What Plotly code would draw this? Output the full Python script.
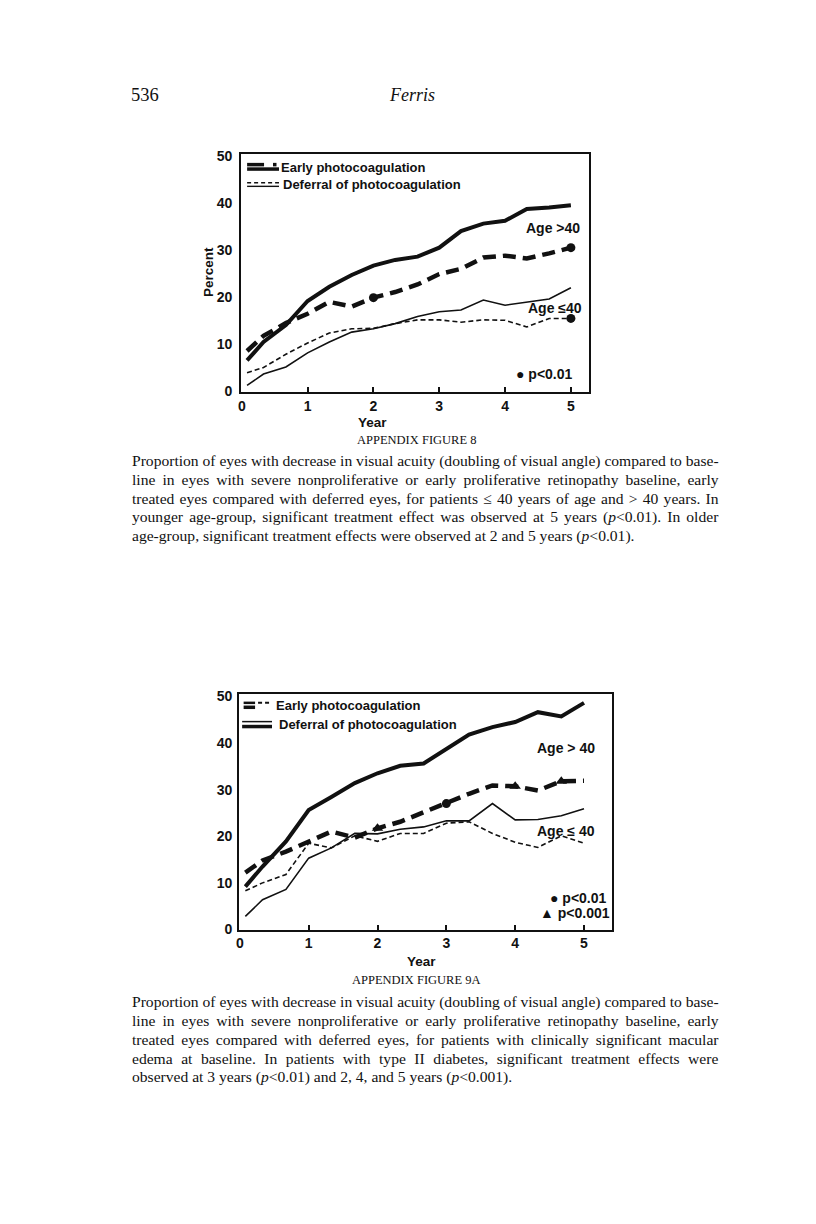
import plotly.graph_objects as go

# ---------------- data ----------------
years = [0.08, 0.33, 0.67, 1.0, 1.33, 1.67, 2.0, 2.33, 2.67, 3.0, 3.33, 3.67, 4.0, 4.33, 4.67, 5.0]

# Appendix figure 8
f8_early_gt40 = [8.6, 11.8, 14.5, 16.5, 19.0, 18.0, 19.9, 21.1, 22.7, 24.9, 26.0, 28.4, 28.8, 28.2, 29.3, 30.5]
f8_defer_gt40 = [6.6, 10.5, 14.1, 19.2, 22.2, 24.7, 26.7, 27.9, 28.6, 30.5, 34.0, 35.6, 36.2, 38.7, 39.0, 39.5]
f8_early_le40 = [4.0, 5.1, 7.9, 10.3, 12.4, 13.3, 13.4, 14.4, 15.2, 15.2, 14.7, 15.2, 15.1, 13.7, 15.5, 15.5]
f8_defer_le40 = [1.3, 3.7, 5.2, 8.2, 10.5, 12.6, 13.3, 14.4, 15.9, 16.9, 17.3, 19.4, 18.3, 18.9, 19.6, 22.0]
f8_dot_gt40 = [2.0, 5.0]      # p<0.01
f8_dot_le40 = [5.0]           # p<0.01

# Appendix figure 9A
f9_early_gt40 = [12.2, 14.8, 16.7, 18.9, 21.0, 19.7, 21.7, 23.1, 25.2, 27.0, 29.1, 30.9, 30.7, 29.8, 31.8, 31.9]
f9_defer_gt40 = [9.2, 13.5, 18.9, 25.6, 28.4, 31.4, 33.5, 35.1, 35.6, 38.7, 41.8, 43.4, 44.5, 46.6, 45.7, 48.6]
f9_early_le40 = [8.3, 10.0, 11.8, 18.5, 17.5, 20.1, 18.9, 20.6, 20.6, 22.8, 23.1, 20.6, 18.7, 17.6, 20.1, 18.5]
f9_defer_le40 = [2.8, 6.4, 8.6, 15.3, 17.5, 20.6, 20.5, 21.5, 22.0, 23.3, 23.3, 27.0, 23.5, 23.6, 24.4, 25.9]
f9_dot_gt40 = [3.0]                 # p<0.01
f9_tri_gt40 = [2.0, 4.0, 4.67]      # p<0.001

x_ticks = [0, 1, 2, 3, 4, 5]
y_ticks = [0, 10, 20, 30, 40, 50]

caption8 = [
    "Proportion of eyes with decrease in visual acuity (doubling of visual angle) compared to base-",
    "line in eyes with severe nonproliferative or early proliferative retinopathy baseline, early",
    "treated eyes compared with deferred eyes, for patients ≤ 40 years of age and > 40 years. In",
    "younger age-group, significant treatment effect was observed at 5 years (|p|<0.01). In older",
    "age-group, significant treatment effects were observed at 2 and 5 years (|p|<0.01).",
]
caption9 = [
    "Proportion of eyes with decrease in visual acuity (doubling of visual angle) compared to base-",
    "line in eyes with severe nonproliferative or early proliferative retinopathy baseline, early",
    "treated eyes compared with deferred eyes, for patients with clinically significant macular",
    "edema at baseline. In patients with type II diabetes, significant treatment effects were",
    "observed at 3 years (|p|<0.01) and 2, 4, and 5 years (|p|<0.001).",
]

# ---------------- helpers ----------------
W, H = 816, 1224
OFF = 8                      # browser body margin
FW, FH = W - 2 * OFF, H - 2 * OFF
def fx(p):
    return (p - OFF) / FW
def fy(p):
    return 1 - (p - OFF) / FH

INK = "#111111"
SANS = "Liberation Sans, Arial, sans-serif"
SERIF = "Liberation Serif, Times New Roman, serif"

# Times metrics (1/1000 em) for justification
TW = dict(zip("abcdefghijklmnopqrstuvwxyz",
              [444, 500, 444, 500, 444, 333, 500, 500, 278, 278, 500, 278, 778, 500, 500, 500, 500, 333,
               389, 278, 500, 500, 722, 500, 500, 444]))
TW.update(dict(zip("ABCDEFGHIJKLMNOPQRSTUVWXYZ",
                   [722, 667, 667, 722, 611, 556, 722, 722, 333, 389, 722, 611, 889, 722, 722, 556, 722,
                    667, 556, 611, 722, 722, 944, 722, 722, 611])))
TW.update({c: 500 for c in "0123456789"})
TW.update({" ": 250, "(": 333, ")": 333, ",": 250, ".": 250, "-": 333, "<": 564, ">": 564,
           "≤": 549})

def em_width(s):
    return sum(TW.get(c, 500) for c in s.replace("|", "")) / 1000.0

def to_html(s):
    out = s.replace("<", "&lt;").replace(">", "&gt;")
    parts = out.split("|")
    res = ""
    for i, p in enumerate(parts):
        res += ("<i>%s</i>" % p) if i % 2 == 1 else p
    return res

fig = go.Figure()

def add_line(x, y, width, dash, xa, ya):
    fig.add_trace(go.Scatter(x=x, y=y, mode="lines", xaxis=xa, yaxis=ya,
                             line=dict(color=INK, width=width, dash=dash, shape="linear"),
                             showlegend=False, hoverinfo="skip"))

def add_marks(xs, series, symbol, size, xa, ya):
    ys = [series[years.index(v)] for v in xs]
    fig.add_trace(go.Scatter(x=xs, y=ys, mode="markers", xaxis=xa, yaxis=ya,
                             marker=dict(color=INK, size=size, symbol=symbol),
                             showlegend=False, hoverinfo="skip"))

THICK_DASH = "13px,7px"
THIN_DASH = "5px,3px"

# figure 8
add_line(years, f8_defer_gt40, 4, "solid", "x", "y")
add_line(years, f8_early_gt40, 4.5, THICK_DASH, "x", "y")
add_line(years, f8_defer_le40, 1.6, "solid", "x", "y")
add_line(years, f8_early_le40, 1.6, THIN_DASH, "x", "y")
add_marks(f8_dot_gt40, f8_early_gt40, "circle", 9, "x", "y")
add_marks(f8_dot_le40, f8_early_le40, "circle", 9, "x", "y")

# figure 9A
add_line(years, f9_defer_gt40, 4, "solid", "x2", "y2")
add_line(years, f9_early_gt40, 4.5, THICK_DASH, "x2", "y2")
add_line(years, f9_defer_le40, 1.6, "solid", "x2", "y2")
add_line(years, f9_early_le40, 1.6, THIN_DASH, "x2", "y2")
add_marks(f9_dot_gt40, f9_early_gt40, "circle", 9, "x2", "y2")
add_marks(f9_tri_gt40, f9_early_gt40, "triangle-up", 10, "x2", "y2")

tickfont = dict(family=SANS, size=14, color=INK, weight="bold")
xcommon = dict(tickvals=x_ticks, ticktext=[str(v) for v in x_ticks], ticks="inside", ticklen=5,
               tickwidth=1.5, tickcolor=INK, showline=True, mirror=True, linecolor=INK,
               linewidth=2, showgrid=False, zeroline=False, tickfont=tickfont)
ycommon = dict(tickvals=y_ticks, ticktext=[str(v) for v in y_ticks], ticks="", showline=True,
               mirror=True, linecolor=INK, linewidth=2, showgrid=False, zeroline=False,
               tickfont=tickfont)

fig.update_layout(
    width=FW, height=FH, margin=dict(l=0, r=0, t=0, b=0),
    paper_bgcolor="white", plot_bgcolor="white", showlegend=False,
    xaxis=dict(domain=[fx(239), fx(588.5)], range=[-0.01, 5.28], anchor="y", **xcommon),
    yaxis=dict(domain=[fy(390), fy(149)], range=[-0.15, 50.3], anchor="x",
               ticklabelstandoff=4, **ycommon),
    xaxis2=dict(domain=[fx(237), fx(611.5)], range=[-0.01, 5.41], anchor="y2", **xcommon),
    yaxis2=dict(domain=[fy(934), fy(696)], range=[0, 50.4], anchor="x2",
                ticklabelstandoff=2, **ycommon),
)

ann = []
def text(t, x, y, size=13.5, family=SANS, bold=True, xanchor="center", angle=0, italic=False):
    if xanchor == "left":
        x -= 2
    ann.append(dict(text=t, x=fx(x), y=fy(y), xref="paper", yref="paper", showarrow=False,
                    xanchor=xanchor, yanchor="middle", textangle=angle, borderpad=0,
                    font=dict(family=family, size=size, color=INK,
                              weight="bold" if bold else "normal",
                              style="italic" if italic else "normal")))

# chart 1 texts
text("Early photocoagulation", 280, 162, size=13, xanchor="left")
text("Deferral of photocoagulation", 282, 180, size=13, xanchor="left")
text("Age &gt;40", 552.5, 224, size=14)
text("Age ≤40", 554, 305, size=14)
text("● p&lt;0.01", 544, 372, size=14)
text("Percent", 207, 268, size=13.5, angle=-90)
text("Year", 371, 421, size=13.5)

# chart 2 texts
text("Early photocoagulation", 275, 707, size=13, xanchor="left")
text("Deferral of photocoagulation", 278, 726, size=13, xanchor="left")
text("Age &gt; 40", 565, 750, size=14)
text("Age ≤ 40", 565, 834, size=14)
text("● p&lt;0.01", 578, 902, size=14)
text("▲ p&lt;0.001", 574, 917, size=14)
text("Year", 420, 966, size=13.5)

# page text
text("536", 129, 89, size=18.5, family=SERIF, bold=False, xanchor="left")
text("Ferris", 411, 89, size=18, family=SERIF, bold=False, italic=True)

LEFT, RIGHT = 130, 717
max_em = max(em_width(s) for s in caption8[:4] + caption9[:4])
CAP_SIZE = min(15.8, (RIGHT - LEFT) / max_em)

def caption(lines, y0, dy):
    for i, line in enumerate(lines):
        html = to_html(line)
        if i < len(lines) - 1:
            nat = em_width(line) * CAP_SIZE
            ns = line.count(" ")
            ws = max(0.0, (RIGHT - LEFT - nat) / ns)
            html = '<span style="word-spacing:%.2fpx">%s</span>' % (ws, html)
        text(html, LEFT, y0 + i * dy, size=CAP_SIZE, family=SERIF, bold=False, xanchor="left")

text("APPENDIX FIGURE 8", 415, 438, size=12.5, family=SERIF, bold=False)
caption(caption8, 460, 18.8)
text("APPENDIX FIGURE 9A", 415, 985, size=12.5, family=SERIF, bold=False)
caption(caption9, 1007.7, 18.9)

fig.update_layout(annotations=ann)

# legend sample strokes (decorative, in page coordinates)
shapes = []
def seg(x0, x1, y, w, dash="solid"):
    shapes.append(dict(type="line", xref="paper", yref="paper", x0=fx(x0), x1=fx(x1),
                       y0=fy(y), y1=fy(y), line=dict(color=INK, width=w, dash=dash)))

# chart 1 legend
seg(245, 262, 159.5, 3.5)
seg(271, 274.5, 159.5, 3.5)
seg(245, 277, 164, 3.5)
seg(245, 277, 177.8, 1.4, "4px,3px")
seg(245, 277, 181.5, 1.4)
# chart 2 legend
seg(241.5, 253, 704.5, 2.5)
seg(256, 269, 704.5, 2.0, "4px,3px")
seg(241.5, 253, 709, 3.5)
seg(240, 270, 723.5, 1.5)
seg(240, 270, 728.5, 3.5)
fig.update_layout(shapes=shapes)

fig.write_html("out.html")
